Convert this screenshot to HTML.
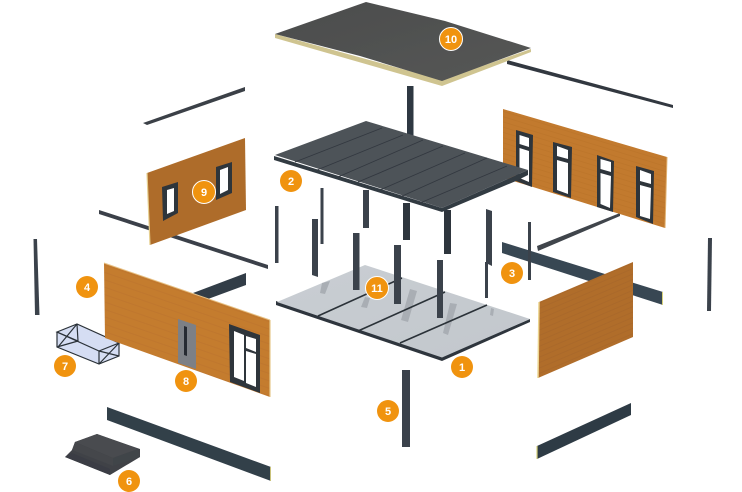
<!DOCTYPE html>
<html><head><meta charset="utf-8"><style>
html,body{margin:0;padding:0;background:#fff;width:742px;height:492px;overflow:hidden}
svg{display:block}
text{font-family:"Liberation Sans",sans-serif;font-weight:bold;fill:#fff;text-anchor:middle}
.d{fill:#3a434c}
.k{fill:#2f343b}
.w{fill:#fff}
</style></head><body>
<svg width="742" height="492" viewBox="0 0 742 492" xmlns="http://www.w3.org/2000/svg">
<defs>
<linearGradient id="r" x1="0" y1="0" x2="1" y2="1"><stop offset="0" stop-color="#4c4d4d"/><stop offset="1" stop-color="#555655"/></linearGradient>
<linearGradient id="fl" x1="0" y1="0" x2="1" y2="1"><stop offset="0" stop-color="#c9ced3"/><stop offset="1" stop-color="#c2c7cc"/></linearGradient>
<pattern id="sL" width="8" height="7" patternUnits="userSpaceOnUse" patternTransform="rotate(19)"><rect width="8" height="7" fill="#c47b2f"/><rect y="6" width="8" height="1" fill="#bf772d"/></pattern>
<pattern id="sB" width="8" height="5" patternUnits="userSpaceOnUse" patternTransform="rotate(17)"><rect width="8" height="5" fill="#c27a2e"/><rect y="4" width="8" height="1" fill="#bd762c"/></pattern>
<pattern id="sR" width="8" height="5" patternUnits="userSpaceOnUse" patternTransform="rotate(-23)"><rect width="8" height="5" fill="#b06d2c"/><rect y="4" width="8" height="1" fill="#aa692a"/></pattern>
<filter id="soft" x="0" y="0" width="100%" height="100%"><feGaussianBlur stdDeviation="0.35"/></filter>
</defs>

<g filter="url(#soft)">
<!-- thin beams -->
<path d="M507 60L673 105L673 108L507 64Z" fill="#33383f"/>
<path d="M143 123L245 87L245 91L147 125Z" fill="#3b4046"/>
<path d="M99 210L268 265L268 269L99 214Z" fill="#3b4148"/>
<path d="M537 246L620 213L620 216L538 251Z" fill="#3f444b"/>

<!-- verticals -->
<path d="M33.500 239L37 239L39.500 315L35 315Z" class="d"/>
<path d="M708 238L712 238L711 311L707 311Z" class="d"/>
<rect x="275" y="206" width="3.500" height="57" class="d"/>
<rect x="320.500" y="188" width="3" height="56" class="d"/>
<path d="M312 219L318 219L318 277L312 275Z" class="d"/>
<path d="M486 209L492 211L492 266L488 264L488 298L485 298L485 262L486 262Z" class="d"/>
<rect x="528" y="222" width="3" height="58" class="d"/>

<!-- mid post under roof -->
<rect x="407" y="86" width="6.500" height="50" fill="#2f3742"/>

<!-- back wall right -->
<path d="M503 109L667 157L665 228L533 187L503 178Z" fill="url(#sB)"/>
<path d="M667 157L665 228" stroke="#e0b070" stroke-width="1" fill="none"/>
<path d="M516 130L533 135L532 187L516 181Z" class="k"/>
<path d="M519.500 135L529 138L529 147L519.500 144ZM519.500 148L529 151L529 182L519.500 178Z" class="w"/>
<path d="M553 142L572 147L571 198L553 192Z" class="k"/>
<path d="M557 146L568 150L568 159L557 156ZM557 160L568 163L568 194L557 190Z" class="w"/>
<path d="M597 155L614 161L613 212L597 207Z" class="k"/>
<path d="M600.500 159L611 162L611 172L600.500 169ZM600.500 173L611 176L610 208L600.500 204Z" class="w"/>
<path d="M636 166L654 171L653 224L636 217Z" class="k"/>
<path d="M640 170L651 174L651 184L640 181ZM640 185L651 188L650 219L640 216Z" class="w"/>

<!-- roof -->
<path d="M275 34L442 80L531 49L531 52L442 86L275 38Z" fill="#cfc490"/>
<path d="M275 34L366 2L445 21L531 48L442 81L360 56Z" fill="url(#r)"/>

<!-- upper floor posts -->
<rect x="363" y="190" width="6" height="38" class="d"/>
<rect x="403" y="203" width="7" height="37" fill="#2d343d"/>
<rect x="444" y="210" width="7" height="44" fill="#2d343d"/>

<!-- floor 2 -->
<path d="M274 156L442 208L528 170L528 175L516 181L442 212L274 160Z" fill="#333a43"/>
<path d="M275 155L366 121L528 170L442 208Z" fill="#4d5359"/>
<path d="M295 162L382 128M317 170L403 135M338 177L423 140M358 182L443 146M380 190L465 153M400 197L487 158M420 203L507 166" stroke="#33383f" stroke-width="0.900" fill="none"/>

<!-- left wall 9 -->
<path d="M147 173L245 138L246 210L150 245Z" fill="#ae6c2a"/>
<path d="M147 173L150 245" stroke="#e6cf8f" stroke-width="1.200" fill="none"/>
<path d="M162 187L178 182L178 213L163 221Z" class="k"/>
<path d="M167 190L174 188L174 211L167 214Z" class="w"/>
<path d="M216 167L232 162L232 193L216 200Z" class="k"/>
<path d="M220 170L228 167L228 190L220 194Z" class="w"/>

<!-- beam 3 -->
<path d="M502 242L663 292L663 305L502 253Z" fill="#384653"/>
<rect x="528" y="222" width="3" height="58" fill="#3a434c"/>
<path d="M662 292L663 292L663 305L662 305Z" fill="#d8d27a"/>

<!-- floor 1 -->
<path d="M276 301L442 357L530 319L530 322L442 361L276 305Z" fill="#2e343c"/>
<path d="M277 302L365 265L530 319L442 357.500Z" fill="url(#fl)"/>
<path d="M322 283L330 281L325 294L320 293ZM365 297L370 298L367 308L361 307ZM410 289L417 291L408 322L401 320ZM450 303L457 304L448 335L443 333ZM491 308L494 309L493 316L490 315Z" fill="#a9aeb4"/>
<path d="M318 316L402 278M358 331L445 292M400 343L487 305" stroke="#2b3037" stroke-width="1.600" fill="none"/>

<!-- posts on floor -->
<rect x="353" y="233" width="6.500" height="57" class="d"/>
<rect x="394" y="245" width="7" height="59" class="d"/>
<rect x="437" y="260" width="6" height="58" class="d"/>

<!-- lower column -->
<rect x="402" y="370" width="8" height="77" class="d"/>

<!-- right wall 2 -->
<path d="M539 302L633 262L633 337L538 378Z" fill="url(#sR)"/>
<path d="M539 302L538 378" stroke="#ecd590" stroke-width="1.500" fill="none"/>

<!-- back beam behind wall 4 -->
<path d="M193 293L246 273L246 285L208 299Z" fill="#333d47"/>

<!-- box 7 -->
<path d="M77 324L119 343L119 356L99 364L57 347L57 332Z" fill="#d5ddf3"/>
<g fill="none" stroke="#2a3038" stroke-width="1.200">
<path d="M57 332L77 324L119 343L99 351L57 332Z"/>
<path d="M57 332L57 347L99 364L119 356L119 343"/>
<path d="M99 351L99 364M77 324L78 341L57 347M57 332L78 341M77 324L58 347M99 351L119 356M99 364L119 343"/>
</g>

<!-- wall 4 -->
<path d="M104 263L270 320L270 397L105 338Z" fill="url(#sL)"/>
<path d="M104 263L270 320" stroke="#e8c48a" stroke-width="1" fill="none"/>
<path d="M270 320L270 397" stroke="#e5c98c" stroke-width="1.200" fill="none"/>
<path d="M178 319L196 325L196 369L178 363Z" fill="#7d8086"/>
<path d="M184 326L187 327L187 356L184 355Z" fill="#262a30"/>
<path d="M229 324L260 335L260 393L230 382Z" class="k"/>
<path d="M234 331L244 335L244 381L234 377Z" class="w"/>
<path d="M246 336L256 339L256 352L246 348ZM246 351L256 354L256 387L246 383Z" class="w"/>

<!-- bottom beams -->
<path d="M107 407L271 467L271 481L107 420Z" fill="#333f4a"/>
<path d="M537 446L631 403L631 415L537 459Z" fill="#2f3b45"/>
<path d="M537 446L537 459" stroke="#d8d27a" stroke-width="1.200" fill="none"/>
<path d="M270.500 467L270.500 481" stroke="#c9c27a" stroke-width="1" fill="none"/>

<!-- insulation 6 -->
<path d="M65 457L72 450L75 442L97 434L140 449L140 457L110 475Z" fill="#3f4247"/>
<path d="M75 442L97 434L138 449L113 458Z" fill="#4a4c50"/>
<path d="M75 442L113 458L113 466L72 450Z" fill="#44464b"/>
<path d="M113 458L138 449L140 457L113 466Z" fill="#414449"/>
<path d="M65 457L72 453L110 469L110 475Z" fill="#3a3e44"/>
</g>

<!-- badges -->
<g fill="#f0930f" stroke="#fff" stroke-width="1">
<circle cx="451" cy="39" r="11.500"/>
<circle cx="204" cy="192" r="11.500"/>
<circle cx="377" cy="288" r="11.500"/>
</g>
<g fill="#f0930f">
<circle cx="291" cy="181" r="11"/>
<circle cx="512" cy="273" r="11"/>
<circle cx="87" cy="287" r="11"/>
<circle cx="65" cy="366" r="11"/>
<circle cx="186" cy="381" r="11"/>
<circle cx="462" cy="367" r="11"/>
<circle cx="388" cy="411" r="11"/>
<circle cx="129" cy="481" r="11"/>
</g>
<g font-size="11">
<text x="451" y="43">10</text>
<text x="291" y="185">2</text>
<text x="204" y="196">9</text>
<text x="512" y="277">3</text>
<text x="87" y="291">4</text>
<text x="65" y="370">7</text>
<text x="186" y="385">8</text>
<text x="377" y="292">11</text>
<text x="462" y="371">1</text>
<text x="388" y="415">5</text>
<text x="129" y="485">6</text>
</g>
</svg>
</body></html>
